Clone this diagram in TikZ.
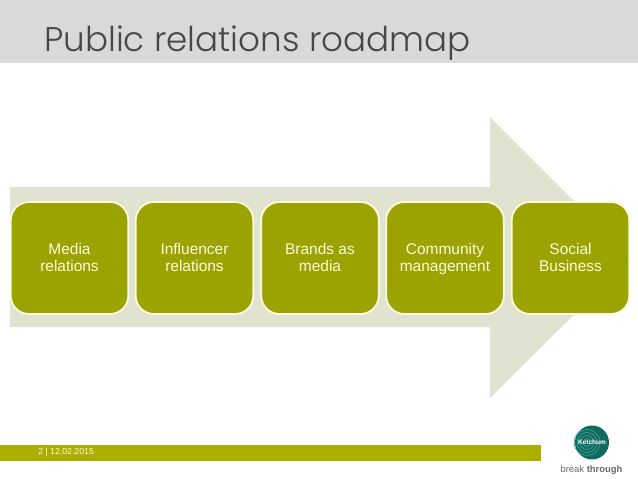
\documentclass[tikz,border=0pt]{standalone}
\usepackage{fontspec}
\setmainfont{Liberation Sans}
\newfontfamily\titlefont{Poppins Light}
\definecolor{band}{HTML}{D9D9D9}
\definecolor{titlegrey}{HTML}{474747}
\definecolor{arrowgrey}{HTML}{E1E3D1}
\definecolor{olive}{HTML}{9BA300}
\definecolor{cream}{HTML}{FBFBDC}
\definecolor{footer}{HTML}{ABB000}
\definecolor{teal}{HTML}{0F6A5F}
\definecolor{sea}{HTML}{3F9F8C}
\definecolor{logogrey}{HTML}{6A6A6A}
\tikzset{
  stage/.style={draw=cream, line width=1.3pt, fill=olive, rounded corners=13pt,
    minimum width=2.94cm, minimum height=2.8cm, align=center, text=cream,
    text height=21pt, text depth=2.5pt,
    font=\fontsize{11pt}{11.4pt}\selectfont}
}

\begin{document}
\begin{tikzpicture}[x=0.025cm, y=-0.025cm]
  \useasboundingbox (0,0) rectangle (638,479);

  % ── Title band ──
  \fill[band] (0,0) rectangle (638,63);
  \node[font=\titlefont\fontsize{24.3pt}{30pt}\selectfont, color=titlegrey, anchor=base west, inner sep=0] (title) at (44,52) {Public relations roadmap};

  % ── Big arrow behind the boxes ──
  \fill[arrowgrey] (10,187) -- (490,187) -- (490,117) -- (631,258) -- (490,398) -- (490,327) -- (10,327) -- cycle;

  % ── Stages ──
  \node[stage] (media) at (69.5,258) {Media\\relations};
  \node[stage] (influencer) at (194.5,258) {Influencer\\relations};
  \node[stage] (brands) at (320,258) {Brands as\\media};
  \node[stage] (community) at (445,258) {Community\\management};
  \node[stage] (social) at (570.5,258) {Social\\Business};

  % ── Footer ──
  \fill[footer] (0,445) rectangle (541,461);
  \node[font=\fontsize{6.2pt}{8pt}\selectfont, color=cream, anchor=west, inner sep=0] (date) at (38,452.5) {2 | 12.02.2015};

  % ── Logo ──
  \fill[teal] (592,442.5) circle (17);
  \foreach \r in {13,10,7,4} {
    \draw[sea, line width=0.5pt] (587,442.5) circle (\r);
  }
  \node[font=\bfseries\fontsize{4.6pt}{5pt}\selectfont, color=white, inner sep=0] (ketchum) at (592,442.5) {Ketchum};
  \node[font=\fontsize{6.7pt}{8pt}\selectfont, color=logogrey, inner sep=0] (slogan) at (591.5,470) {break \textbf{through}};
\end{tikzpicture}
\end{document}
